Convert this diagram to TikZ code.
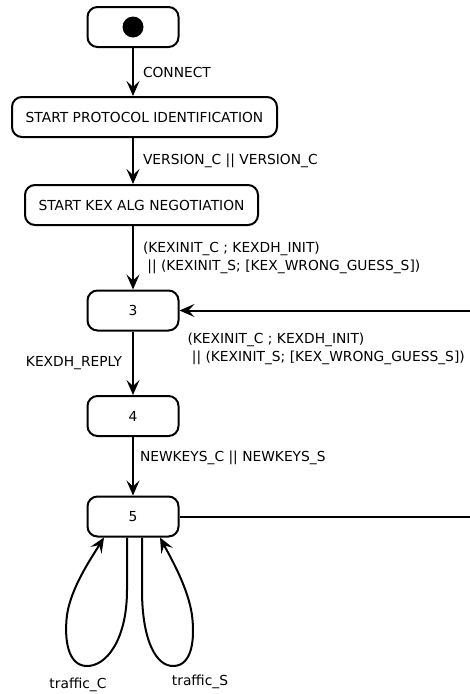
\documentclass[tikz,border=0pt]{standalone}
\usepackage{fontspec}
\setmainfont{DejaVu Sans}
\usetikzlibrary{arrows.meta}

\begin{document}
\begin{tikzpicture}
	[x=1pt,y=-1pt,
	state/.style={draw, line width=2pt, rounded corners=10pt, minimum height=40pt, inner sep=0pt, font=\fontsize{13.8}{16}\selectfont},
	smallstate/.style={state, minimum width=91pt},
	trans/.style={-{Stealth[length=15pt,width=13pt,inset=6pt]}, line width=2pt},
	lbl/.style={font=\fontsize{13.8}{18}\selectfont, inner sep=2pt, align=left}]

	\useasboundingbox (0,0) rectangle (470,694);
	\clip (0,0) rectangle (470,694);

	%States
	\node[smallstate] (init) at (133,27) {};
	\fill (init.center) circle (10.5pt);
	\node[state, minimum width=265pt] (protoid) at (144.5,117) {START PROTOCOL IDENTIFICATION};
	\node[state, minimum width=233pt] (kexneg) at (141.5,205) {START KEX ALG NEGOTIATION};
	\node[smallstate] (s3) at (133,310.5) {3};
	\node[smallstate] (s4) at (133,416) {4};
	\node[smallstate] (s5) at (133,516.5) {5};

	%Transitions
	\draw[trans] (init) -- (init.south |- protoid.north) node[lbl, midway, right=7pt] {CONNECT};
	\draw[trans] (init.south |- protoid.south) -- (init.south |- kexneg.north) node[lbl, midway, right=7pt] {VERSION\_C || VERSION\_C};
	\draw[trans] (init.south |- kexneg.south) -- (s3) node[lbl, midway, right=7pt] {(KEXINIT\_C ; KEXDH\_INIT)\\\ || (KEXINIT\_S; [KEX\_WRONG\_GUESS\_S])};
	\draw[trans] (s3) -- (s4) node[lbl, midway, left=8pt] {KEXDH\_REPLY};
	\draw[trans] (s4) -- (s5) node[lbl, pos=0.35, right=4pt] {NEWKEYS\_C || NEWKEYS\_S};

	%Back to 3
	\coordinate (rturn) at (490,0);
	\draw[trans] (s5.east) -- (s5.east -| rturn) -- (s3.east -| rturn) -- (s3.east)
		node[lbl, anchor=north west, xshift=5pt, yshift=-20pt] {(KEXINIT\_C ; KEXDH\_INIT)\\\ || (KEXINIT\_S; [KEX\_WRONG\_GUESS\_S])};

	%Traffic loops
	\draw[trans] ([xshift=-6pt]s5.south) -- (127,590) .. controls (127,640) and (106,667) .. (86,666)
		.. controls (68,665) and (64,640) .. (67,615) .. controls (71,588) and (90,560) .. ([xshift=-29pt]s5.south);
	\draw[trans] ([xshift=9pt]s5.south) -- (142,590) .. controls (142,640) and (156,667) .. (174,666)
		.. controls (192,665) and (195,640) .. (192,615) .. controls (188,588) and (172,560) .. ([xshift=27pt]s5.south);
	\node[lbl] (trafc) at (78,685) {traffic\_C};
	\node[lbl] (trafs) at (200,682) {traffic\_S};
\end{tikzpicture}
\end{document}
